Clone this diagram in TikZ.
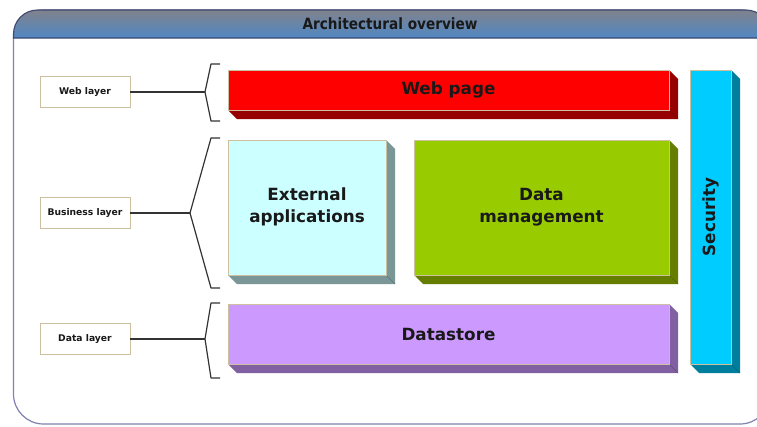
\documentclass[tikz,border=0pt]{standalone}
\usepackage{fontspec}
\setmainfont{DejaVu Sans}
\newfontfamily\titlefont[FakeStretch=0.88]{DejaVu Sans}
\usepackage{tikz}
\usetikzlibrary{positioning,calc}
\usepackage{xcolor}
\definecolor{framelin}{RGB}{128,128,178}
\definecolor{bandedge}{RGB}{62,72,112}
\definecolor{bandtop}{RGB}{128,130,140}
\definecolor{bandbot}{RGB}{80,136,196}
\definecolor{edgetan}{RGB}{205,192,160}
\definecolor{frontRed}{RGB}{255,0,0}
\definecolor{sideRed}{RGB}{150,0,0}
\definecolor{frontExt}{RGB}{204,255,255}
\definecolor{sideExt}{RGB}{122,150,150}
\definecolor{frontMgmt}{RGB}{153,204,0}
\definecolor{sideMgmt}{RGB}{102,126,0}
\definecolor{frontStore}{RGB}{204,153,255}
\definecolor{sideStore}{RGB}{128,96,160}
\definecolor{frontSec}{RGB}{0,204,255}
\definecolor{sideSec}{RGB}{0,126,158}
% front face x1,y1,x2,y2 with its extrusion (front colour, side colour)
\newcommand{\slab}[6]{%
  \fill[#6] (#3,#2) -- ++(9,9) -- ++(0,#4-#2) -- ++(#1-#3,0) -- (#1,#4) -- (#3,#4) -- cycle;
  \draw[#6!60!black,line width=0.3] (#3,#4) -- ++(9,9);
  \draw[fill=#5,draw=edgetan,line width=0.6] (#1,#2) rectangle (#3,#4);
}

\begin{document}
\begin{tikzpicture}[x=1pt,y=-1pt,
    layerbox/.style={draw=edgetan,fill=white,line width=0.8,minimum width=90,minimum height=31,
      inner sep=0pt,font=\fontsize{9.2}{11}\selectfont\bfseries,text=black!90},
    blocktext/.style={align=center,font=\fontsize{16.8}{22}\selectfont\bfseries,text=black!90},
    brace/.style={draw=black!80,line width=1.2,line join=round}]
  \useasboundingbox (0,0) rectangle (757,426);
  % Frame and title band
  \draw[framelin,line width=1.2,fill=white,rounded corners=30] (13.5,10) rectangle (770,424);
  \path[draw=bandedge,line width=1.1,top color=bandtop,bottom color=bandbot]
    (13.5,38) -- (13.5,34) arc[start angle=180,end angle=270,radius=24]
    -- (746,10) arc[start angle=270,end angle=360,radius=24] -- (770,38) -- cycle;
  \node[font=\titlefont\fontsize{15.5}{18}\selectfont\bfseries,text=black!90] (title) at (390,24) {Architectural overview};
  % Blocks
  \slab{228}{70}{669}{110}{frontRed}{sideRed}
  \slab{228}{140}{386}{275}{frontExt}{sideExt}
  \slab{414}{140}{669}{275}{frontMgmt}{sideMgmt}
  \slab{228}{304}{669}{364}{frontStore}{sideStore}
  \slab{690}{70}{731}{364}{frontSec}{sideSec}
  \node[blocktext] (webpage) at (448.5,90) {Web page};
  \node[blocktext] (extapps) at (307,207) {External\\applications};
  \node[blocktext] (datamgmt) at (541.5,207) {Data\\management};
  \node[blocktext] (datastore) at (448.5,334) {Datastore};
  \node[blocktext,rotate=90] (security) at (710.5,217) {Security};
  % Layer labels
  \node[layerbox] (weblayer) at (85,92) {Web layer};
  \node[layerbox] (buslayer) at (85,213) {Business layer};
  \node[layerbox] (datalayer) at (85,339) {Data layer};
  % Braces
  \coordinate (webtip) at (205,92);
  \coordinate (bustip) at (190,213);
  \coordinate (datatip) at (205,339);
  \draw[brace] (220,64) -- (211,64) -- (webtip) -- (211,121) -- (220,121);
  \draw[brace] (220,138) -- (211,138) -- (bustip) -- (211,288) -- (220,288);
  \draw[brace] (220,303) -- (211,303) -- (datatip) -- (211,378) -- (220,378);
  \draw[brace] (weblayer.east) -- (webtip);
  \draw[brace] (buslayer.east) -- (bustip);
  \draw[brace] (datalayer.east) -- (datatip);
\end{tikzpicture}
\end{document}
